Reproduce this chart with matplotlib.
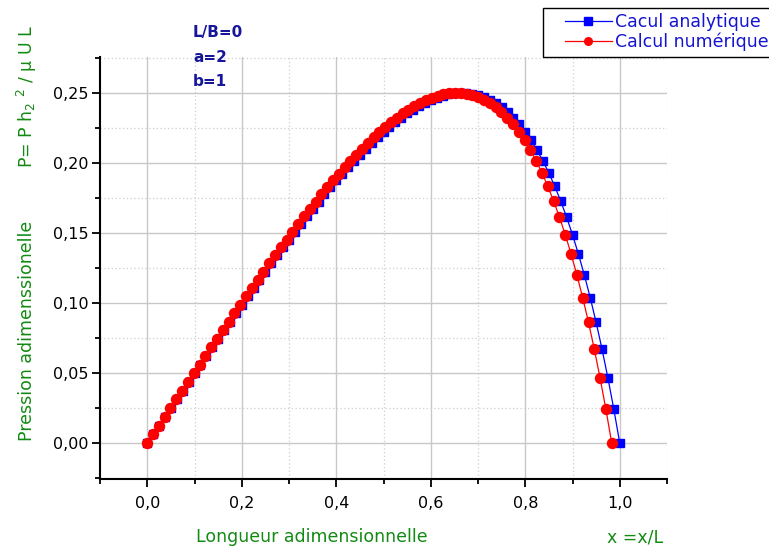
import matplotlib
matplotlib.use("Agg")
import matplotlib.pyplot as plt
from matplotlib.ticker import MultipleLocator, FuncFormatter
from matplotlib.patches import Rectangle

plt.rcParams['font.family'] = ['DejaVu Sans']

# Analytical solution (blue squares)
x_ana = [0.0, 0.0125, 0.025, 0.0375, 0.05, 0.0625, 0.075, 0.0875, 0.1, 0.1125,
         0.125, 0.1375, 0.15, 0.1625, 0.175, 0.1875, 0.2, 0.2125, 0.225, 0.2375,
         0.25, 0.2625, 0.275, 0.2875, 0.3, 0.3125, 0.325, 0.3375, 0.35, 0.3625,
         0.375, 0.3875, 0.4, 0.4125, 0.425, 0.4375, 0.45, 0.4625, 0.475, 0.4875,
         0.5, 0.5125, 0.525, 0.5375, 0.55, 0.5625, 0.575, 0.5875, 0.6, 0.6125,
         0.625, 0.6375, 0.65, 0.6625, 0.675, 0.6875, 0.7, 0.7125, 0.725, 0.7375,
         0.75, 0.7625, 0.775, 0.7875, 0.8, 0.8125, 0.825, 0.8375, 0.85, 0.8625,
         0.875, 0.8875, 0.9, 0.9125, 0.925, 0.9375, 0.95, 0.9625, 0.975, 0.9875,
         1.0]
p_ana = [0.0, 0.00625, 0.01250, 0.01874, 0.02498, 0.03122, 0.03744, 0.04366, 0.04986, 0.05605,
         0.06222, 0.06838, 0.07451, 0.08061, 0.08670, 0.09275, 0.09877, 0.10475, 0.11069, 0.11659,
         0.12245, 0.12825, 0.13401, 0.13970, 0.14533, 0.15089, 0.15638, 0.16180, 0.16713, 0.17237,
         0.17751, 0.18256, 0.18750, 0.19232, 0.19703, 0.20160, 0.20603, 0.21032, 0.21446, 0.21843,
         0.22222, 0.22583, 0.22924, 0.23245, 0.23543, 0.23819, 0.24069, 0.24293, 0.24490, 0.24657,
         0.24793, 0.24897, 0.24966, 0.24998, 0.24991, 0.24943, 0.24852, 0.24715, 0.24529, 0.24292,
         0.24000, 0.23651, 0.23240, 0.22765, 0.22222, 0.21607, 0.20914, 0.20141, 0.19282, 0.18331,
         0.17284, 0.16134, 0.14876, 0.13502, 0.12006, 0.10381, 0.08617, 0.06706, 0.04640, 0.02408,
         0.0]

# Numerical solution (red circles)
x_num = [0.0, 0.0123, 0.0246, 0.0369, 0.0492, 0.0614, 0.0737, 0.0860, 0.0983, 0.1106,
         0.1229, 0.1352, 0.1475, 0.1597, 0.1720, 0.1843, 0.1966, 0.2089, 0.2212, 0.2335,
         0.2458, 0.2580, 0.2703, 0.2826, 0.2949, 0.3072, 0.3195, 0.3318, 0.3441, 0.3563,
         0.3686, 0.3809, 0.3932, 0.4055, 0.4178, 0.4301, 0.4424, 0.4546, 0.4669, 0.4792,
         0.4915, 0.5038, 0.5161, 0.5284, 0.5407, 0.5529, 0.5652, 0.5775, 0.5898, 0.6021,
         0.6144, 0.6267, 0.6390, 0.6512, 0.6635, 0.6758, 0.6881, 0.7004, 0.7127, 0.7250,
         0.7373, 0.7495, 0.7618, 0.7741, 0.7864, 0.7987, 0.8110, 0.8233, 0.8356, 0.8478,
         0.8601, 0.8724, 0.8847, 0.8970, 0.9093, 0.9216, 0.9339, 0.9461, 0.9584, 0.9707,
         0.9830]
p_num = list(p_ana)

x_ticks = [0.0, 0.2, 0.4, 0.6, 0.8, 1.0]
y_ticks = [0.0, 0.05, 0.10, 0.15, 0.20, 0.25]

W, H = 769, 548
fig = plt.figure(figsize=(W/100, H/100), dpi=100)
ax = fig.add_axes([100/W, 1-479/H, 567/W, 422/H])

ax.set_xlim(-0.1, 1.1)
ax.set_ylim(-0.0257, 0.2757)

ax.plot(x_ana, p_ana, color='#0000FF', lw=0.9, marker='s', ms=6,
        mfc='#0000FF', mec='#0000FF', label='Cacul analytique', zorder=3)
ax.plot(x_num, p_num, color='#FF0000', lw=0.9, marker='o', ms=7.2,
        mfc='#FF0000', mec='#FF0000', label='Calcul numérique', zorder=4)

ax.set_xticks(x_ticks)
ax.set_yticks(y_ticks)
ax.xaxis.set_minor_locator(MultipleLocator(0.1))
ax.yaxis.set_minor_locator(MultipleLocator(0.025))
ax.xaxis.set_major_formatter(FuncFormatter(lambda v, p: f"{v:.1f}".replace('.', ',')))
ax.yaxis.set_major_formatter(FuncFormatter(lambda v, p: f"{v:.2f}".replace('.', ',')))

ax.grid(which='major', color='#c8c8c8', lw=1.0, ls='-', zorder=0)
ax.grid(which='minor', color='#cfcfcf', lw=0.9, ls=(0, (1, 2)), zorder=0)
ax.set_axisbelow(True)

for s in ['top', 'right']:
    ax.spines[s].set_visible(False)
for s in ['left', 'bottom']:
    ax.spines[s].set_linewidth(1.5)
ax.tick_params(which='major', direction='out', length=6, width=1.3, labelsize=11.5, pad=2)
ax.tick_params(which='minor', direction='out', length=3.5, width=1.3)
ax.tick_params(axis='x', pad=6)

green = '#138a13'
lab_fs = 12.5
fig.text(27/W, 1-96/H, r"P= P h$_2$ $^2$ / µ U L", rotation=90, ha='center',
         va='center', color=green, fontsize=lab_fs)
fig.text(27/W, 1-331/H, "Pression adimenssionelle", rotation=90, ha='center',
         va='center', color=green, fontsize=lab_fs)
fig.text(312/W, 1-537/H, "Longueur adimensionnelle", ha='center', va='center',
         color=green, fontsize=lab_fs)
fig.text(635/W, 1-537/H, "x =x/L", ha='center', va='center',
         color=green, fontsize=lab_fs)

navy = '#16169a'
for txt, yy in [("L/B=0", 32), ("a=2", 58), ("b=1", 82)]:
    fig.text(193/W, 1-yy/H, txt, ha='left', va='center', color=navy,
             fontsize=11, fontweight='bold')

# legend frame (extends beyond right edge as in the reference)
fig.patches.append(Rectangle((543/W, 1-57/H), 260/W, 49/H, transform=fig.transFigure,
                             facecolor='white', edgecolor='black', lw=1.0, zorder=5))
leg = fig.legend(loc='upper left', bbox_to_anchor=(565/W, 1-13/H),
                 frameon=False, fontsize=12.5, handlelength=2.7, handletextpad=0.2,
                 borderpad=0.0, labelspacing=0.1, borderaxespad=0)
leg.set_zorder(6)
for t in leg.get_texts():
    t.set_color('#1414d0')
for h in leg.legend_handles:
    h.set_markersize(5.5)

fig.savefig('out.png', dpi=100)
